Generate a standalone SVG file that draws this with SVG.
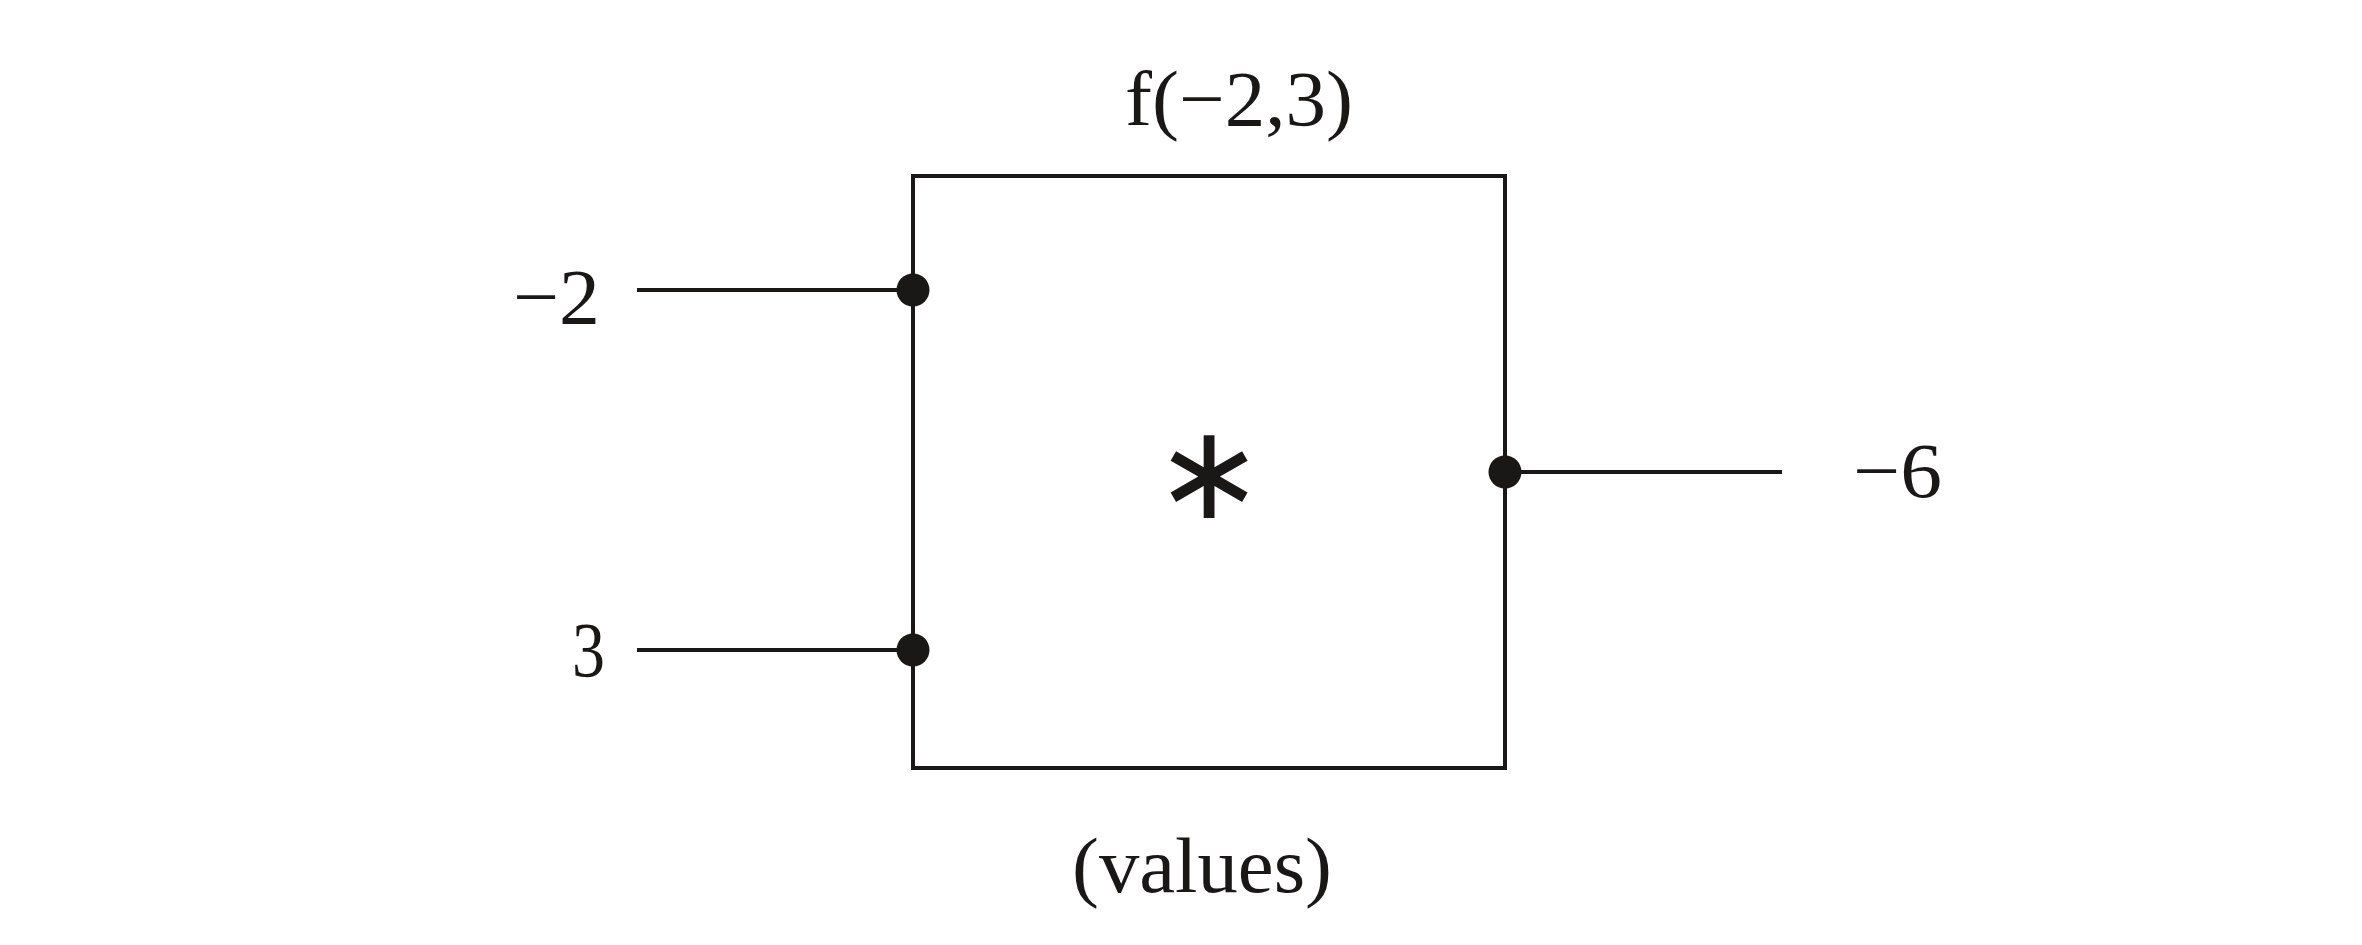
<svg xmlns="http://www.w3.org/2000/svg" width="2362" height="945" viewBox="0 0 2362 945">
<style>
.ln{stroke:#1a1816;stroke-width:4;fill:none}
.dot{fill:#1a1816}
.t{font-family:"Liberation Serif","DejaVu Serif",serif;font-size:78px;fill:#1a1816}
.ast{font-family:"DejaVu Sans",sans-serif;font-size:132px;fill:#1a1816}
</style>
<rect width="2362" height="945" fill="#ffffff"/>
<g id="node-box">
<rect class="ln" x="913" y="176" width="592" height="592"/>
<text class="ast" x="1209" y="472" text-anchor="middle" dominant-baseline="central">∗</text>
</g>
<g id="label-top"><text class="t" x="1125" y="125" textLength="228" lengthAdjust="spacingAndGlyphs">f(−2,3)</text></g>
<g id="label-bottom"><text class="t" x="1072" y="892" textLength="260" lengthAdjust="spacingAndGlyphs">(values)</text></g>
<g id="in-a"><text class="t" x="513" y="323" textLength="87" lengthAdjust="spacingAndGlyphs">−2</text></g>
<g id="in-b"><text class="t" x="572" y="676" textLength="33" lengthAdjust="spacingAndGlyphs">3</text></g>
<g id="out"><text class="t" x="1853" y="497" textLength="89" lengthAdjust="spacingAndGlyphs">−6</text></g>
<g id="connectors">
<line class="ln" x1="637" y1="290" x2="913" y2="290"/>
<line class="ln" x1="637" y1="650" x2="913" y2="650"/>
<line class="ln" x1="1505" y1="472" x2="1782" y2="472"/>
<circle class="dot" cx="913" cy="290" r="16.5"/>
<circle class="dot" cx="913" cy="650" r="16.5"/>
<circle class="dot" cx="1505" cy="472" r="16.5"/>
</g>
</svg>
